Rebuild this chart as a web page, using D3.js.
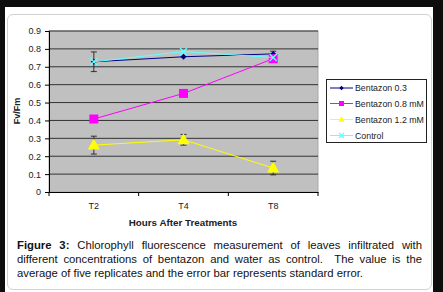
<!DOCTYPE html>
<html><head><meta charset="utf-8">
<script src="https://cdn.jsdelivr.net/npm/d3@7"></script>
<style>
html,body{margin:0;padding:0;background:#0d0d0d;width:443px;height:292px;overflow:hidden;}
#wrap{position:absolute;left:5px;top:7px;width:428px;height:285px;background:#fff;}
#frame{position:absolute;left:7px;top:14px;width:423px;height:274px;border:1.5px solid #d0d0d0;border-radius:6px;}
svg{position:absolute;left:0;top:0;}
</style></head>
<body>
<div id="wrap"></div><div id="frame"></div>
<svg id="chart" width="443" height="292"></svg>
<script>
const categories = ["T2","T4","T8"];
const seriesNames = ["Bentazon 0.3","Bentazon 0.8 mM","Bentazon 1.2 mM","Control"];
const bentazon03 = [0.728,0.756,0.772];
const bentazon08 = [0.408,0.551,0.745];
const bentazon12 = [0.262,0.292,0.134];
const control = [0.728,0.785,0.752];
const err03 = [0.055,0,0.015];
const err08 = [0,0,0];
const err12 = [0.05,0.03,0.038];
const errCtl = [0,0,0];
const yTicks = [0,0.1,0.2,0.3,0.4,0.5,0.6,0.7,0.8,0.9];
const captionLines = [
  ["Figure 3:", "Chlorophyll fluorescence measurement of leaves infiltrated with"],
  ["", "different concentrations of bentazon and water as control.\u00a0 The value is the"],
  ["", "average of five replicates and the error bar represents standard error."]
];
const colors = ["#000080","#ff00ff","#ffff00","#66ffff"];
const shapes = ["diamond","square","triangle","x"];

const svg = d3.select("#chart");
const L=49,R=318,T=31,B=192;
const x = d3.scaleBand().domain(categories).range([L,R]);
const y = d3.scaleLinear().domain([0,0.9]).range([B,T]);
const font='"Liberation Sans",Arial,sans-serif';

svg.append("rect").attr("x",L).attr("y",T).attr("width",R-L).attr("height",B-T).attr("fill","#c0c0c0").attr("stroke","#a8a8a8").attr("stroke-width",1);
yTicks.slice(1).forEach(t=>{
  svg.append("line").attr("x1",L).attr("x2",R).attr("y1",y(t)).attr("y2",y(t)).attr("stroke","#222").attr("stroke-width",0.9);
});
const yAx = svg.append("g").attr("transform",`translate(${L},0)`).call(d3.axisLeft(y).tickValues(yTicks).tickSize(4).tickFormat(d=>d===0?"0":d3.format(".1f")(d)));
const xAx = svg.append("g").attr("transform",`translate(0,${B})`).call(d3.axisBottom(x).tickSize(0).tickPadding(11));
const bounds=[L,...categories.map(c=>x(c)+x.bandwidth())];
bounds.forEach(b=>svg.append("line").attr("x1",b).attr("x2",b).attr("y1",B).attr("y2",B+4).attr("stroke","#000"));
[yAx,xAx].forEach(g=>{g.selectAll("path.domain").attr("stroke","#000");g.selectAll("line").attr("stroke","#000");g.selectAll("text").attr("font-family",font).attr("font-size","9px").attr("fill","#222");});
yAx.selectAll("text").attr("dx","-1");

svg.append("text").attr("transform","translate(20,111) rotate(-90)").attr("text-anchor","middle").attr("font-family",font).attr("font-size","9px").attr("font-weight","bold").attr("fill","#222").text("Fv/Fm");
svg.append("text").attr("x",183).attr("y",226).attr("text-anchor","middle").attr("font-family",font).attr("font-size","9.8px").attr("font-weight","bold").attr("fill","#222").text("Hours After Treatments");

const data=[bentazon03,bentazon08,bentazon12,control];
const errs=[err03,err08,err12,errCtl];
const cx = c=>x(c)+x.bandwidth()/2;
function marker(g,shape,color,px,py,s){
  if(shape==="diamond") g.append("path").attr("d",`M${px},${py-s}L${px+s},${py}L${px},${py+s}L${px-s},${py}Z`).attr("fill",color);
  else if(shape==="square") g.append("rect").attr("x",px-s).attr("y",py-s).attr("width",2*s).attr("height",2*s).attr("fill",color);
  else if(shape==="triangle") g.append("path").attr("d",`M${px},${py-s*1.2}L${px+s*1.1},${py+s*0.8}L${px-s*1.1},${py+s*0.8}Z`).attr("fill",color);
  else g.append("path").attr("d",`M${px-s},${py-s}L${px+s},${py+s}M${px+s},${py-s}L${px-s},${py+s}`).attr("stroke",color).attr("stroke-width",1.3).attr("fill","none");
}
data.forEach((d,i)=>{
  d.forEach((v,j)=>{
    const e=errs[i][j]; if(!e) return;
    const px=cx(categories[j]);
    const g=svg.append("g").attr("stroke","#222").attr("stroke-width",0.9);
    g.append("line").attr("x1",px).attr("x2",px).attr("y1",y(v+e)).attr("y2",y(v-e));
    g.append("line").attr("x1",px-3).attr("x2",px+3).attr("y1",y(v+e)).attr("y2",y(v+e));
    g.append("line").attr("x1",px-3).attr("x2",px+3).attr("y1",y(v-e)).attr("y2",y(v-e));
  });
});
const line=d3.line().x((d,j)=>cx(categories[j])).y(d=>y(d));
const sizes=[3,4.5,5.5,3.5];
data.forEach((d,i)=>{
  svg.append("path").datum(d).attr("d",line).attr("fill","none").attr("stroke",colors[i]).attr("stroke-width",1);
  d.forEach((v,j)=>marker(svg,shapes[i],colors[i],cx(categories[j]),y(v),sizes[i]));
});
// legend
const lg=svg.append("g");
lg.append("rect").attr("x",326.5).attr("y",79.5).attr("width",100).attr("height",63).attr("fill","#fff").attr("stroke","#222").attr("stroke-width",1);
const ly=[88,103.5,119.5,135.5];
seriesNames.forEach((n,i)=>{
  lg.append("line").attr("x1",330).attr("x2",353).attr("y1",ly[i]).attr("y2",ly[i]).attr("stroke",colors[i]).attr("stroke-width",1);
  marker(lg,shapes[i],colors[i],341.5,ly[i],[2.2,2.5,2.8,2.5][i]);
  lg.append("text").attr("x",355).attr("y",ly[i]+3).attr("font-family",font).attr("font-size","8.8px").attr("fill","#222").text(n);
});
// caption, justified lines
const capX=17, capW=405, capY=[249,263,277];
captionLines.forEach((ln,i)=>{
  const t=svg.append("text").attr("x",capX).attr("y",capY[i]).attr("font-family",font).attr("font-size","11.3px").attr("fill","#111");
  if(ln[0]) t.append("tspan").attr("font-weight","bold").text(ln[0]+" ");
  t.append("tspan").text(ln[1]);
  if(i<captionLines.length-1){
    const full=(ln[0]?ln[0]+" ":"")+ln[1];
    const spaces=(full.match(/[ \u00a0]/g)||[]).length;
    const len=t.node().getComputedTextLength();
    t.attr("word-spacing",(capW-len)/spaces);
  }
});
</script>
</body></html>
